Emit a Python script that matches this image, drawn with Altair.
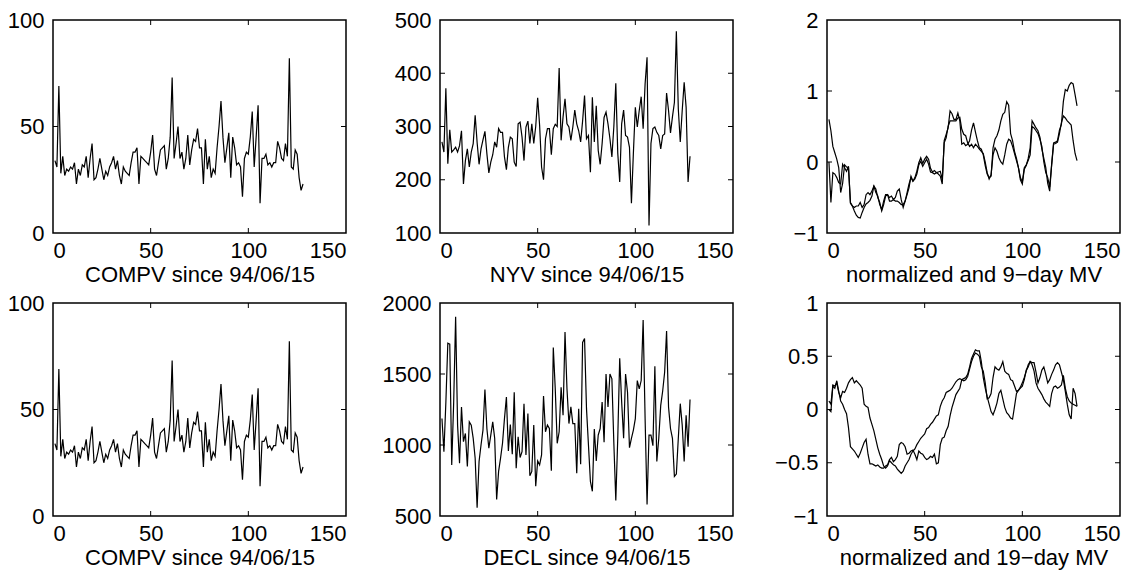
import altair as alt
import pandas as pd

# ---------------- data ----------------
x_ticks = [0, 50, 100, 150]

compv = [34,31,69,28,36,27,30,29,31,30,33,23,30,27,32,31,36,26,35,42,
         25,26,30,35,30,25,29,27,31,33,36,30,34,27,23,31,29,28,27,33,
         38,38,40,23,36,35,34,33,32,38,46,30,27,33,39,40,41,30,35,45,
         73,35,42,50,35,38,30,35,46,32,39,44,43,49,40,40,23,44,30,36,
         26,30,28,40,50,62,45,33,40,47,26,45,40,32,33,31,17,35,38,37,
         45,57,31,45,60,14,35,35,37,32,33,31,33,33,43,40,35,34,42,36,
         82,31,30,39,37,26,20,23]

nyv = [271,252,372,230,294,252,256,261,252,264,292,192,236,258,224,252,268,321,270,229,
       258,275,291,249,213,233,247,271,261,296,289,289,243,219,261,280,277,233,225,305,
       308,280,236,299,310,268,305,268,300,354,302,224,200,277,296,296,247,296,304,300,
       410,274,318,352,305,299,274,299,331,305,292,271,310,358,277,283,214,355,271,339,
       255,229,268,317,327,305,277,243,300,381,250,196,305,331,283,280,261,156,250,336,
       299,330,356,296,380,430,114,268,296,299,289,283,258,283,286,363,330,288,318,345,
       479,333,271,330,383,336,196,244]

decl = [1186,953,1300,1717,1710,860,1300,1903,1140,872,1268,1023,1081,849,1163,1140,1047,907,558,884,
        1000,1105,1391,1116,977,1070,1163,1047,616,814,907,1012,1186,1338,958,1144,935,1372,837,1058,
        912,953,1291,930,1221,784,814,1140,709,888,860,930,1345,1093,1140,1116,818,1687,1396,1012,
        1093,1407,1210,1796,1396,1151,1268,1151,1151,802,1256,865,1722,1750,1256,1000,744,674,1112,888,
        1070,1116,1303,1019,1500,1268,1500,1466,1012,609,1047,1610,1303,1047,1500,1372,981,1047,1105,1186,
        1454,1396,1454,1880,1186,581,1070,1070,995,1554,884,1047,1279,1380,1512,1803,1268,1116,1047,779,
        795,1047,1291,1140,884,1210,988,1321]

mv9_a = [0.60,0.44,0.22,0.13,0.04,-0.08,-0.43,-0.30,-0.04,-0.07,-0.08,-0.58,-0.62,-0.69,-0.75,-0.78,-0.79,-0.71,-0.64,-0.59,
         -0.57,-0.54,-0.48,-0.34,-0.38,-0.50,-0.57,-0.69,-0.60,-0.48,-0.46,-0.50,-0.48,-0.53,-0.50,-0.41,-0.38,-0.53,-0.64,-0.55,
         -0.46,-0.36,-0.20,-0.27,-0.22,-0.13,-0.01,0.06,-0.02,0.04,0.08,0.04,-0.09,-0.14,-0.12,-0.15,-0.17,-0.20,-0.31,0.30,
         0.39,0.48,0.72,0.68,0.60,0.60,0.69,0.58,0.25,0.27,0.23,0.25,0.30,0.45,0.55,0.42,0.30,0.20,0.18,0.10,
         -0.05,-0.17,-0.22,-0.20,0.20,0.32,0.37,0.45,0.58,0.67,0.70,0.85,0.80,0.40,0.30,0.15,0.05,-0.08,-0.25,-0.31,
         -0.10,-0.05,0.05,0.20,0.58,0.53,0.48,0.44,0.35,0.18,0.05,-0.08,-0.30,-0.41,-0.03,0.27,0.28,0.30,0.45,0.53,
         0.85,1.02,1.00,1.08,1.12,1.10,0.95,0.79]

mv9_b = [0.00,-0.57,-0.15,-0.17,-0.22,-0.29,-0.31,-0.03,-0.08,-0.13,-0.06,-0.57,-0.62,-0.64,-0.62,-0.62,-0.57,-0.64,-0.60,-0.46,
         -0.43,-0.46,-0.41,-0.34,-0.43,-0.48,-0.60,-0.67,-0.55,-0.46,-0.46,-0.55,-0.55,-0.53,-0.55,-0.55,-0.57,-0.60,-0.60,-0.55,
         -0.43,-0.31,-0.22,-0.27,-0.24,-0.17,-0.04,0.01,-0.06,-0.01,0.04,-0.03,-0.14,-0.15,-0.17,-0.15,-0.14,-0.13,-0.25,0.27,
         0.34,0.50,0.58,0.58,0.58,0.58,0.62,0.63,0.46,0.39,0.37,0.27,0.22,0.25,0.20,0.25,0.22,0.18,0.15,0.12,
         0.00,-0.15,-0.24,-0.18,0.10,0.20,0.15,0.06,0.00,-0.03,0.10,0.25,0.32,0.30,0.22,0.12,0.02,-0.08,-0.22,-0.28,
         -0.08,-0.04,0.02,0.10,0.50,0.48,0.44,0.40,0.32,0.22,0.00,-0.15,-0.22,-0.35,-0.05,0.25,0.26,0.28,0.40,0.55,
         0.65,0.62,0.58,0.55,0.52,0.30,0.12,0.02]

mv19_a = [0.00,-0.02,0.22,0.20,0.27,0.17,0.08,0.05,0.00,-0.04,-0.17,-0.35,-0.37,-0.39,-0.42,-0.45,-0.41,-0.36,-0.31,-0.28,
          -0.42,-0.51,-0.51,-0.52,-0.53,-0.52,-0.54,-0.55,-0.55,-0.53,-0.52,-0.47,-0.45,-0.49,-0.47,-0.44,-0.33,-0.31,-0.32,-0.35,
          -0.42,-0.41,-0.39,-0.38,-0.42,-0.47,-0.39,-0.41,-0.42,-0.45,-0.47,-0.46,-0.44,-0.45,-0.42,-0.51,-0.50,-0.33,-0.27,-0.26,
          -0.20,-0.16,-0.06,0.02,0.08,0.14,0.17,0.20,0.28,0.29,0.30,0.33,0.40,0.48,0.52,0.56,0.55,0.55,0.45,0.30,
          0.20,0.12,0.05,-0.02,-0.05,0.00,0.06,0.15,0.18,0.10,0.02,-0.03,-0.05,-0.08,-0.09,0.03,0.15,0.18,0.20,0.22,
          0.28,0.37,0.40,0.45,0.42,0.36,0.25,0.20,0.17,0.14,0.10,0.07,0.05,0.03,0.15,0.21,0.22,0.20,0.21,0.23,
          0.32,0.20,0.12,0.08,0.06,0.05,0.04,0.03]

mv19_b = [0.08,0.05,0.23,0.22,0.25,0.16,0.11,0.17,0.16,0.20,0.25,0.28,0.30,0.25,0.27,0.25,0.23,0.20,0.05,0.03,
          0.02,-0.08,-0.14,-0.20,-0.28,-0.36,-0.42,-0.47,-0.53,-0.55,-0.53,-0.48,-0.50,-0.52,-0.53,-0.56,-0.58,-0.60,-0.58,-0.53,
          -0.50,-0.47,-0.42,-0.39,-0.37,-0.33,-0.30,-0.27,-0.25,-0.23,-0.18,-0.17,-0.14,-0.12,-0.09,-0.06,-0.05,0.03,0.08,0.11,
          0.16,0.17,0.18,0.20,0.23,0.26,0.28,0.29,0.28,0.27,0.28,0.31,0.38,0.45,0.50,0.53,0.52,0.50,0.40,0.36,
          0.25,0.10,0.11,0.15,0.30,0.40,0.38,0.37,0.40,0.45,0.36,0.34,0.33,0.28,0.27,0.22,0.17,0.18,0.21,0.25,
          0.30,0.36,0.42,0.45,0.44,0.44,0.35,0.25,0.30,0.37,0.40,0.33,0.25,0.28,0.33,0.37,0.42,0.44,0.42,0.35,
          0.28,0.17,0.05,-0.05,-0.09,0.20,0.15,0.03]

# ---------------- helpers ----------------
W, H = 293, 213
FONT = "Liberation Sans"
FS = 22
TICK = 5


def series_df(values, name="s"):
    return pd.DataFrame({"x": list(range(1, len(values) + 1)), "y": values, "s": name})


def panel(frames, ydomain, yticks, title):
    df = pd.concat(frames, ignore_index=True)
    xs = alt.Scale(domain=[0, 150], nice=False, zero=False)
    ys = alt.Scale(domain=ydomain, nice=False, zero=False)
    xax = alt.Axis(values=x_ticks, title=title, format="~r")
    yax = alt.Axis(values=yticks, title=None, format="~r")
    line = alt.Chart(df).mark_line(color="black", strokeWidth=1.2, clip=True).encode(
        x=alt.X("x:Q", scale=xs, axis=xax),
        y=alt.Y("y:Q", scale=ys, axis=yax),
        detail="s:N",
    )
    xt = pd.DataFrame({"x": x_ticks[1:-1]})
    yt = pd.DataFrame({"y": yticks[1:-1]})
    xb = alt.Chart(xt).mark_rule(color="black", strokeWidth=1).encode(
        x=alt.X("x:Q", scale=xs, axis=xax), y=alt.value(H), y2=alt.value(H - TICK))
    xtop = alt.Chart(xt).mark_rule(color="black", strokeWidth=1).encode(
        x=alt.X("x:Q", scale=xs, axis=xax), y=alt.value(0), y2=alt.value(TICK))
    yl = alt.Chart(yt).mark_rule(color="black", strokeWidth=1).encode(
        y=alt.Y("y:Q", scale=ys, axis=yax), x=alt.value(0), x2=alt.value(TICK))
    yr = alt.Chart(yt).mark_rule(color="black", strokeWidth=1).encode(
        y=alt.Y("y:Q", scale=ys, axis=yax), x=alt.value(W), x2=alt.value(W - TICK))
    return alt.layer(line, xb, xtop, yl, yr).properties(width=W, height=H)


p1 = panel([series_df(compv)], [0, 100], [0, 50, 100], "COMPV since 94/06/15")
p2 = panel([series_df(nyv)], [100, 500], [100, 200, 300, 400, 500], "NYV since 94/06/15")
p3 = panel([series_df(mv9_a, "a"), series_df(mv9_b, "b")], [-1, 2], [-1, 0, 1, 2],
           "normalized and 9\u2212day MV")
p4 = panel([series_df(compv)], [0, 100], [0, 50, 100], "COMPV since 94/06/15")
p5 = panel([series_df(decl)], [500, 2000], [500, 1000, 1500, 2000], "DECL since 94/06/15")
p6 = panel([series_df(mv19_a, "a"), series_df(mv19_b, "b")], [-1, 1], [-1, -0.5, 0, 0.5, 1],
           "normalized and 19\u2212day MV")

chart = alt.concat(p1, p2, p3, p4, p5, p6, columns=3,
                   spacing={"row": 70, "column": 94}, bounds="flush").properties(
    padding={"left": 6, "top": 8, "right": 5, "bottom": 5},
    background="white",
).configure_view(
    stroke="black", strokeWidth=1.5
).configure_axis(
    grid=False, ticks=False, domain=False,
    labelFont=FONT, labelFontSize=FS, labelColor="black",
    titleFont=FONT, titleFontSize=FS, titleFontWeight="normal", titleColor="black",
    titlePadding=3,
).configure_axisX(labelPadding=7).configure_axisY(labelPadding=9)

chart.save("out.html", embed_options={"renderer": "svg", "actions": False})
